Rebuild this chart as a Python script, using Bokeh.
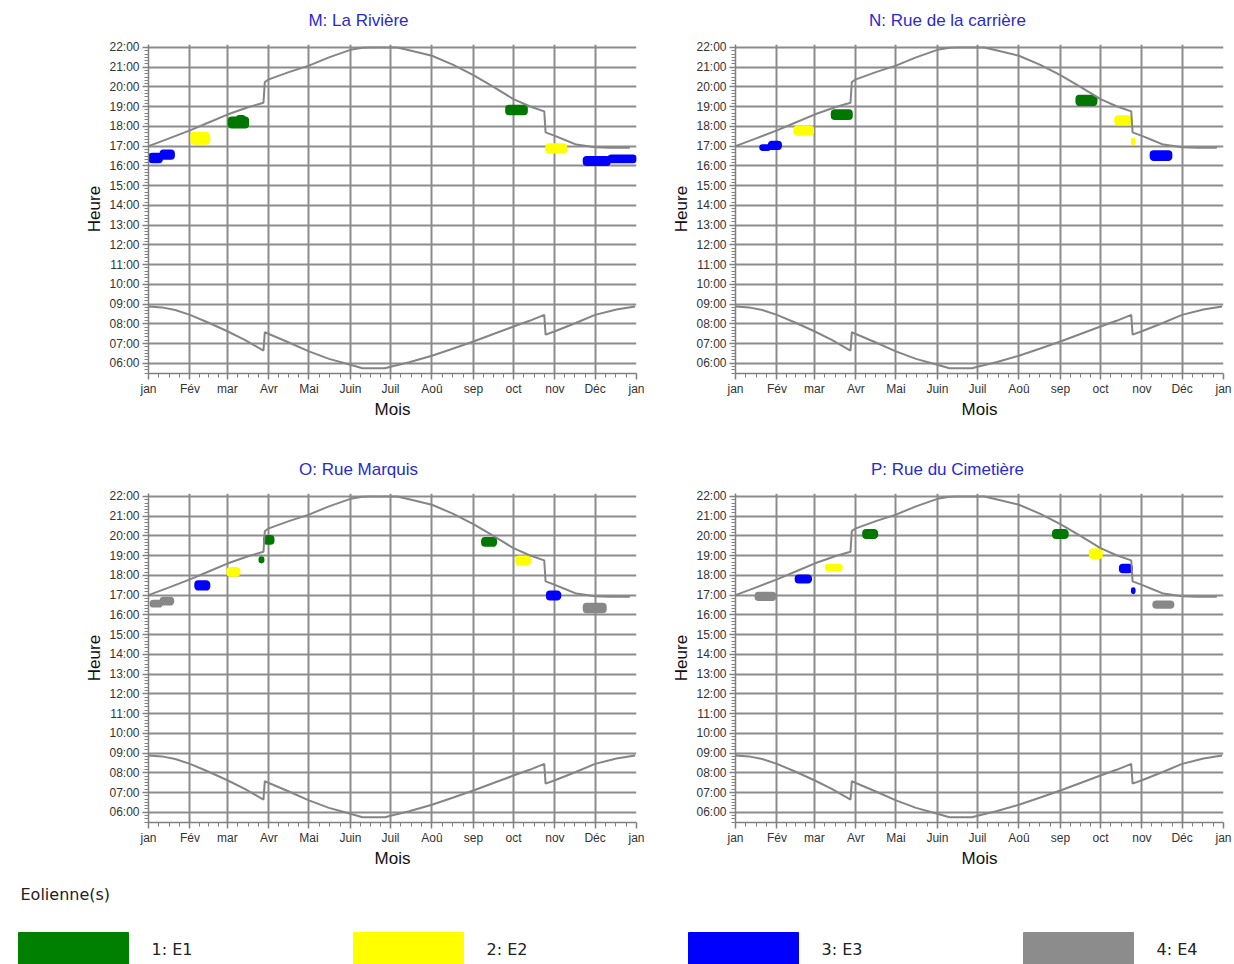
from bokeh.plotting import figure
from bokeh.models import Range1d, FixedTicker
from bokeh.layouts import column, row
from bokeh.embed import file_html
from bokeh.resources import INLINE
from bokeh.core.properties import value

# ---------------- data ----------------
month_starts = [0, 31, 59, 90, 120, 151, 181, 212, 243, 273, 304, 334, 365]
month_labels = ["jan", "Fév", "mar", "Avr", "Mai", "Juin", "Juil", "Aoû",
                "sep", "oct", "nov", "Déc", "jan"]
hour_ticks = list(range(6, 23))
hour_labels = ["%02d:00" % h for h in hour_ticks]

# sunset curve (day of year, hour)
sunset_day = [0, 15, 31, 45, 59, 75, 86, 87, 90, 105, 120, 135, 151, 160, 166,
              186, 195, 212, 228, 243, 258, 273, 285, 296, 297, 304, 312, 320,
              334, 345, 360]
sunset_hour = [17.0, 17.38, 17.8, 18.2, 18.6, 18.98, 19.2, 20.25, 20.38, 20.75,
               21.08, 21.5, 21.88, 21.98, 22.0, 22.0, 21.86, 21.58, 21.12, 20.6,
               20.0, 19.38, 19.02, 18.76, 17.7, 17.52, 17.3, 17.08, 16.94,
               16.92, 16.92]

# sunrise curve (day of year, hour)
sunrise_day = [0, 10, 20, 31, 45, 59, 72, 86, 87, 90, 105, 120, 135, 151, 160,
               177, 181, 195, 212, 228, 243, 258, 273, 285, 296, 297, 304, 320,
               334, 350, 364]
sunrise_hour = [8.88, 8.83, 8.7, 8.45, 8.05, 7.62, 7.18, 6.64, 7.58, 7.48, 7.05,
                6.6, 6.22, 5.92, 5.75, 5.75, 5.82, 6.05, 6.38, 6.75, 7.1, 7.48,
                7.86, 8.15, 8.45, 7.45, 7.62, 8.05, 8.45, 8.72, 8.88]

turbine_names = ["1: E1", "2: E2", "3: E3", "4: E4"]
turbine_colors = ["#007800", "#ffff00", "#0000ff", "#888888"]
legend_colors = ["#008000", "#ffff00", "#0000ff", "#8c8c8c"]

panel_titles = ["M: La Rivière", "N: Rue de la carrière",
                "O: Rue Marquis", "P: Rue du Cimetière"]

# shadow periods per receptor: turbine index, start day, end day, low hour, high hour
m_turbine = [2, 2, 1, 0, 0, 0, 1, 2, 2]
m_day_start = [0.5, 9, 32, 60, 66, 267.5, 297.5, 325.5, 344]
m_day_end = [10, 19, 45.5, 74.5, 72, 283, 312.5, 345, 364.5]
m_hour_low = [16.18, 16.36, 17.12, 17.95, 18.3, 18.62, 16.68, 16.05, 16.18]
m_hour_high = [16.62, 16.78, 17.68, 18.45, 18.53, 19.05, 17.1, 16.45, 16.52]

n_turbine = [2, 2, 1, 0, 0, 1, 1, 2]
n_day_start = [18.5, 25, 44, 72, 255, 284, 296.5, 310.5]
n_day_end = [26, 34, 58, 87, 270, 296, 298.5, 326]
n_hour_low = [16.8, 16.85, 17.58, 18.38, 19.08, 18.1, 17.1, 16.3]
n_hour_high = [17.04, 17.22, 18.0, 18.82, 19.55, 18.52, 17.38, 16.74]

o_turbine = [3, 3, 2, 1, 0, 0, 0, 1, 2, 3]
o_day_start = [1.5, 9, 35, 59, 83, 86.5, 249.5, 275, 298, 325.5]
o_day_end = [10, 18.5, 45.5, 68, 86, 93.5, 260, 285.5, 308, 342]
o_hour_low = [16.42, 16.52, 17.28, 17.98, 18.66, 19.6, 19.5, 18.54, 16.78, 16.13]
o_hour_high = [16.72, 16.87, 17.7, 18.38, 18.92, 20.0, 19.9, 18.96, 17.18, 16.57]

p_turbine = [3, 2, 1, 0, 0, 1, 2, 2, 3]
p_day_start = [15, 45, 67.5, 95.5, 237.5, 265, 287.5, 296.5, 312.5]
p_day_end = [30, 56.5, 79.5, 106, 248.5, 274, 296.5, 298.5, 327.5]
p_hour_low = [16.76, 17.64, 18.26, 19.9, 19.9, 18.88, 18.16, 17.1, 16.36]
p_hour_high = [17.12, 18.0, 18.54, 20.3, 20.3, 19.32, 18.54, 17.35, 16.68]

# ---------------- layout constants ----------------
GRID = "#8c8c8c"
FONT = "Liberation Sans"
PAGE_W = 1232
LEFT_FRAME_X = 148
RIGHT_FRAME_X = 735
FRAME_W = 488
FRAME_H = 329
STRIP_H = 36
TOP_PAD = 8

x_minor = []
for a, b in zip(month_starts[:-1], month_starts[1:]):
    for k in range(1, 4):
        x_minor.append(a + (b - a) * k / 4.0)
y_minor = [5.5 + i / 6.0 for i in range(0, 100) if 5.5 + i / 6.0 <= 22.15]


def strip(height):
    s = figure(width=PAGE_W, height=height, x_range=Range1d(0, PAGE_W),
               y_range=Range1d(height, 0), output_backend="svg",
               toolbar_location=None, x_axis_location=None,
               y_axis_location=None, min_border=0)
    s.outline_line_color = None
    s.grid.visible = False
    return s


def title_strip(left_title, right_title):
    s = strip(STRIP_H)
    s.text(x=[LEFT_FRAME_X + 210, RIGHT_FRAME_X + 212], y=[20, 20],
           text=[left_title, right_title], text_align="center",
           text_baseline="middle", text_font=value(FONT),
           text_font_size=value("17px"), text_color="#2a2ad2")
    return s


def make_panel(turbine, d0, d1, h0, h1, left_border, right_border,
               bottom_border):
    p = figure(frame_width=FRAME_W, frame_height=FRAME_H,
               x_range=Range1d(0, 365), y_range=Range1d(5.48, 22.15),
               output_backend="svg", toolbar_location=None,
               min_border_left=left_border, min_border_right=right_border,
               min_border_top=TOP_PAD, min_border_bottom=bottom_border)
    p.outline_line_color = None
    p.background_fill_color = "white"
    p.border_fill_color = "white"

    # axes
    p.xaxis.ticker = FixedTicker(ticks=month_starts, minor_ticks=x_minor)
    p.xaxis.major_label_overrides = {m: l for m, l in zip(month_starts, month_labels)}
    p.yaxis.ticker = FixedTicker(ticks=hour_ticks, minor_ticks=y_minor)
    p.yaxis.major_label_overrides = {h: l for h, l in zip(hour_ticks, hour_labels)}
    p.xaxis.axis_label = "Mois"
    p.yaxis.axis_label = "Heure"
    for ax in (p.xaxis, p.yaxis):
        ax.axis_line_color = "#808080"
        ax.axis_line_width = 1.5
        ax.major_tick_line_color = "#808080"
        ax.minor_tick_line_color = "#808080"
        ax.major_tick_line_width = 1.5
        ax.minor_tick_line_width = 1
        ax.major_tick_in = 0
        ax.minor_tick_in = 0
        ax.major_tick_out = 6
        ax.minor_tick_out = 4
        ax.major_label_text_font = FONT
        ax.major_label_text_font_size = "12px"
        ax.major_label_text_color = "#333333"
        ax.axis_label_text_font = FONT
        ax.axis_label_text_font_size = "17px"
        ax.axis_label_text_font_style = "normal"
        ax.axis_label_text_color = "#111111"
    p.xaxis.major_label_standoff = 2
    p.xaxis.axis_label_standoff = 1
    p.yaxis.major_label_standoff = 3
    p.yaxis.axis_label_standoff = 2

    # grid
    p.xgrid.ticker = FixedTicker(ticks=month_starts[1:-1])
    p.ygrid.ticker = FixedTicker(ticks=hour_ticks)
    for g in (p.xgrid, p.ygrid):
        g.grid_line_color = GRID
        g.grid_line_width = 2

    # shadow periods
    cols = [turbine_colors[t] for t in turbine]
    p.quad(left=d0, right=d1, bottom=h0, top=h1, fill_color=cols,
           line_color=cols, line_width=2, border_radius=3)

    # sunrise / sunset
    p.line(sunset_day, sunset_hour, line_color="#858585", line_width=2)
    p.line(sunrise_day, sunrise_hour, line_color="#858585", line_width=2)
    return p


LEFT_BORDER = LEFT_FRAME_X
LEFT_RIGHT_BORDER = 14
RIGHT_LEFT_BORDER = RIGHT_FRAME_X - (LEFT_FRAME_X + FRAME_W + LEFT_RIGHT_BORDER)
RIGHT_RIGHT_BORDER = PAGE_W - RIGHT_FRAME_X - FRAME_W

pm = make_panel(m_turbine, m_day_start, m_day_end, m_hour_low, m_hour_high,
                LEFT_BORDER, LEFT_RIGHT_BORDER, 76)
pn = make_panel(n_turbine, n_day_start, n_day_end, n_hour_low, n_hour_high,
                RIGHT_LEFT_BORDER, RIGHT_RIGHT_BORDER, 76)
po = make_panel(o_turbine, o_day_start, o_day_end, o_hour_low, o_hour_high,
                LEFT_BORDER, LEFT_RIGHT_BORDER, 50)
pp = make_panel(p_turbine, p_day_start, p_day_end, p_hour_low, p_hour_high,
                RIGHT_LEFT_BORDER, RIGHT_RIGHT_BORDER, 50)

t1 = title_strip(panel_titles[0], panel_titles[1])
t2 = title_strip(panel_titles[2], panel_titles[3])

# ---------------- legend strip ----------------
LEG_TOP = 872
lg = strip(92)
sw_left = [18 + 335 * i for i in range(len(turbine_names))]
sw_right = [x + 110 for x in sw_left]
lg.quad(left=sw_left, right=sw_right, top=932 - LEG_TOP, bottom=92,
        fill_color=legend_colors, line_color=legend_colors)
lg.text(x=[x + 23 for x in sw_right], y=[949 - LEG_TOP] * len(turbine_names),
        text=turbine_names, text_baseline="middle",
        text_font=value("DejaVu Sans"), text_font_size=value("16px"),
        text_color="#222222")
lg.text(x=[20], y=[894 - LEG_TOP], text=["Eolienne(s)"], text_baseline="middle",
        text_font=value("DejaVu Sans"), text_font_size=value("16px"),
        text_color="#222222")

layout = column(t1, row(pm, pn), t2, row(po, pp), lg)

open("out.html", "w").write(file_html(layout, INLINE))
